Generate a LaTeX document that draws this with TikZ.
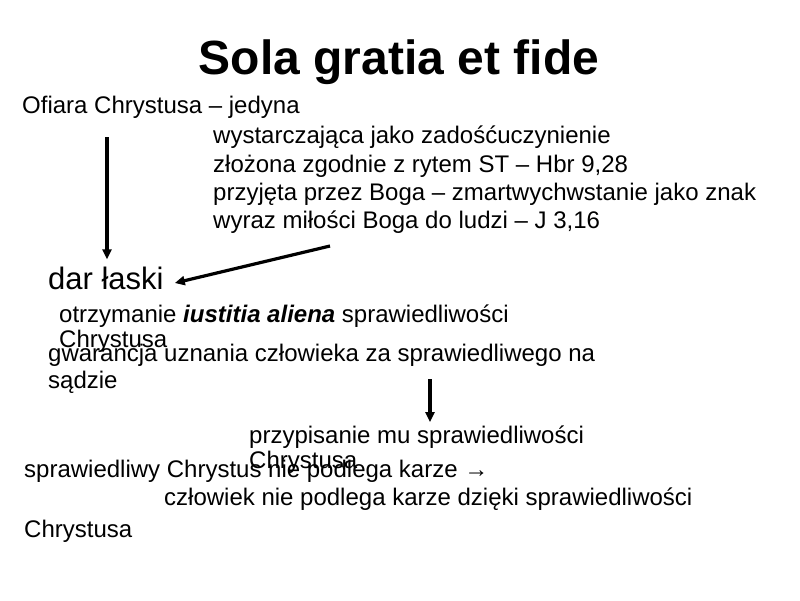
\documentclass[tikz,border=0pt]{standalone}
\usepackage{fontspec}
\setmainfont{Liberation Sans}
\usetikzlibrary{arrows.meta}
\begin{document}
\begin{tikzpicture}[x=1pt,y=-1pt,
  txt/.style={anchor=base west,inner sep=0pt,font=\fontsize{24}{28}\selectfont},
  arr/.style={line width=3.2pt,-{Triangle[length=10pt,width=9pt]}}]
\fill[white] (0,0) rectangle (800,600);
\useasboundingbox (0,0) rectangle (800,600);
\node[anchor=base,inner sep=0pt,font=\fontsize{48}{56}\selectfont\bfseries] (title) at (399,74) {Sola gratia et fide};
\node[txt] (ofiara) at (22,113) {Ofiara Chrystusa – jedyna};
\node[txt] (l2) at (213,143) {wystarczająca jako zadośćuczynienie};
\node[txt] (l3) at (213,172) {złożona zgodnie z rytem ST – Hbr 9,28};
\node[txt] (l4) at (213,200) {przyjęta przez Boga – zmartwychwstanie jako znak};
\node[txt] (l5) at (213,228) {wyraz miłości Boga do ludzi – J 3,16};
\node[txt,font=\fontsize{31}{36}\selectfont] (dar) at (48,289) {dar łaski};
\node[txt] (otrz) at (59,322) {otrzymanie \textbf{\textit{iustitia aliena}} sprawiedliwości};
\node[txt] (chr1) at (59,347) {Chrystusa};
\node[txt] (gwar) at (48,361) {gwarancja uznania człowieka za sprawiedliwego na};
\node[txt] (sad) at (48,388) {sądzie};
\node[txt] (przyp) at (249,443) {przypisanie mu sprawiedliwości};
\node[txt] (chr2) at (249,468) {Chrystusa};
\node[txt] (spraw) at (24,477) {sprawiedliwy Chrystus nie podlega karze →};
\node[txt] (czl) at (164,505) {człowiek nie podlega karze dzięki sprawiedliwości};
\node[txt] (chr3) at (24,537) {Chrystusa};
\coordinate (a1s) at (107,137);
\coordinate (a2s) at (330,246);
\coordinate (a3s) at (430,379);
\draw[arr,shorten >=7pt] (a1s) -- (a1s |- dar.north);
\draw[arr] (a2s) -- ([xshift=11pt,yshift=6pt]dar.base east);
\draw[arr] (a3s) -- ([yshift=3pt]a3s |- przyp.north);
\end{tikzpicture}
\end{document}
